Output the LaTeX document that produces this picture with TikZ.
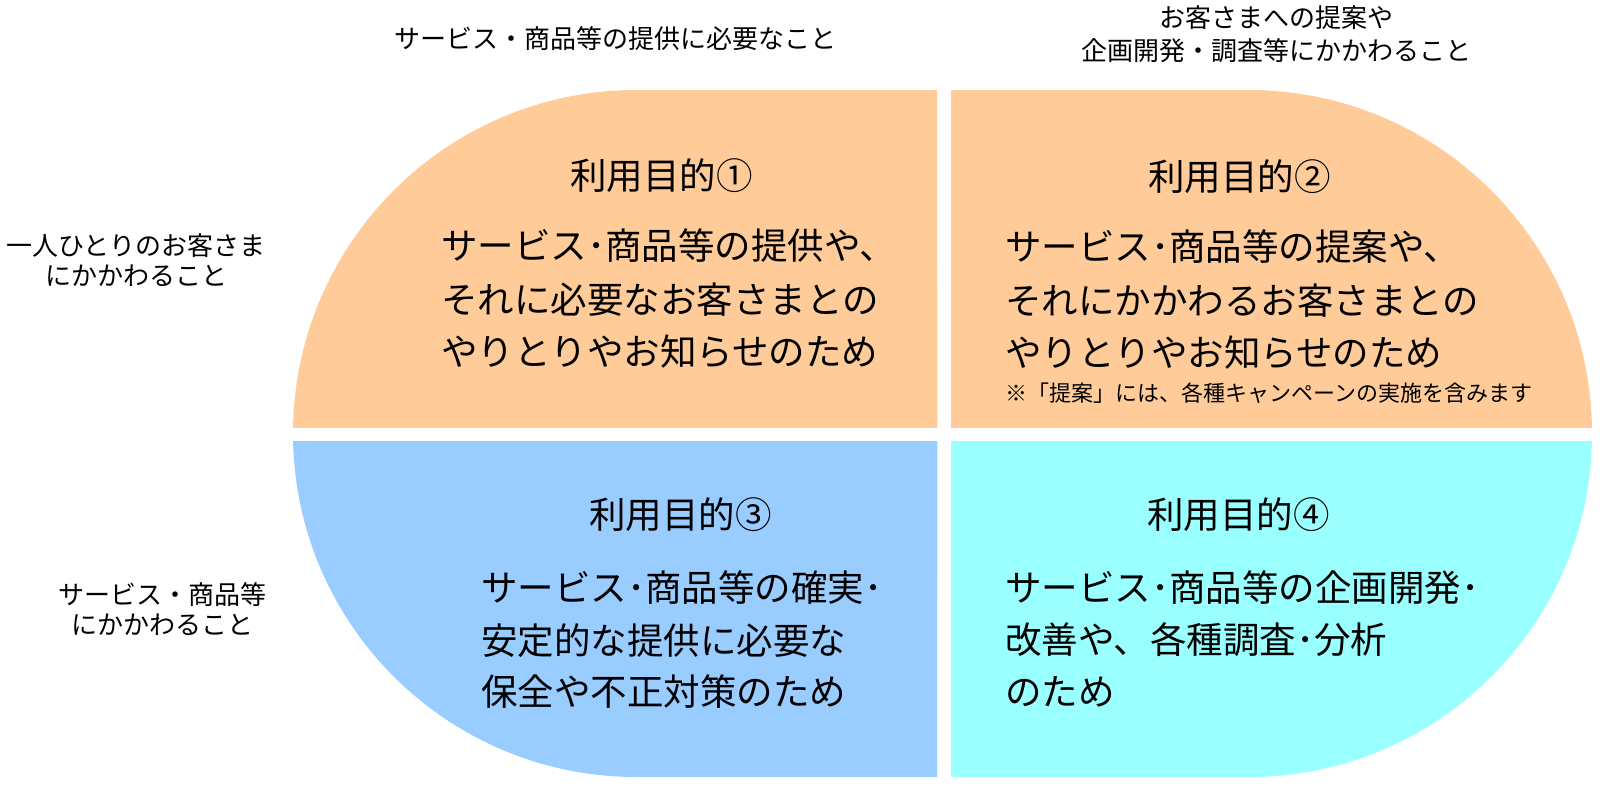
\documentclass[tikz,border=0pt]{standalone}
\usepackage{fontspec}
\setmainfont{Noto Sans CJK JP}
\definecolor{qorange}{HTML}{FFCC99}
\definecolor{qblue}{HTML}{99CCFF}
\definecolor{qcyan}{HTML}{99FFFF}
\newcommand\stadiumfill[1]{%
  \fill[#1] (636.5,90) rectangle (1248.5,777);
  \fill[#1] (636.5,433.5) circle[radius=343.5pt];
  \fill[#1] (1248.5,433.5) circle[radius=343.5pt];}
\begin{document}
\begin{tikzpicture}[x=1pt,y=-1pt,
  ttl/.style={anchor=base west, inner sep=0pt, font=\fontsize{36.5}{40}\selectfont},
  bdy/.style={anchor=base west, inner sep=0pt, font=\fontsize{36.5}{40}\selectfont},
  nte/.style={anchor=base west, inner sep=0pt, font=\fontsize{22}{26}\selectfont},
  hdr/.style={anchor=base, inner sep=0pt, font=\fontsize{26}{30}\selectfont}]
\useasboundingbox (0,0) rectangle (1600,786);
% quadrants
\begin{scope}\clip (280,80) rectangle (937,427); \stadiumfill{qorange}\end{scope}
\begin{scope}\clip (951,80) rectangle (1600,427); \stadiumfill{qorange}\end{scope}
\begin{scope}\clip (280,441) rectangle (937,786); \stadiumfill{qblue}\end{scope}
\begin{scope}\clip (951,441) rectangle (1600,786); \stadiumfill{qcyan}\end{scope}
% headers
\node[hdr] (h1) at (615,49) {サービス・商品等の提供に必要なこと};
\node[hdr] (h2a) at (1276,28) {お客さまへの提案や};
\node[hdr] (h2b) at (1276,61) {企画開発・調査等にかかわること};
\node[hdr] (s1a) at (136,255) {一人ひとりのお客さま};
\node[hdr] (s1b) at (136,286) {にかかわること};
\node[hdr] (s2a) at (162,604) {サービス・商品等};
\node[hdr] (s2b) at (162,634) {にかかわること};
% quadrant 1
\node[ttl] (t1) at (570,190) {利用目的①};
\node[bdy] (b1a) at (441,260) {サービス･商品等の提供や、};
\node[bdy] (b1b) at (441,313) {それに必要なお客さまとの};
\node[bdy] (b1c) at (441,365) {やりとりやお知らせのため};
% quadrant 2
\node[ttl] (t2) at (1148,191) {利用目的②};
\node[bdy] (b2a) at (1005,261) {サービス･商品等の提案や、};
\node[bdy] (b2b) at (1005,314) {それにかかわるお客さまとの};
\node[bdy] (b2c) at (1005,366) {やりとりやお知らせのため};
\node[nte] (n2) at (1005,401) {※「提案」には、各種キャンペーンの実施を含みます};
% quadrant 3
\node[ttl] (t3) at (589,528) {利用目的③};
\node[bdy] (b3a) at (481,601) {サービス･商品等の確実･};
\node[bdy] (b3b) at (481,654) {安定的な提供に必要な};
\node[bdy] (b3c) at (481,705) {保全や不正対策のため};
% quadrant 4
\node[ttl] (t4) at (1147,528) {利用目的④};
\node[bdy] (b4a) at (1005,601) {サービス･商品等の企画開発･};
\node[bdy] (b4b) at (1005,653) {改善や、各種調査･分析};
\node[bdy] (b4c) at (1005,705) {のため};
\end{tikzpicture}
\end{document}
